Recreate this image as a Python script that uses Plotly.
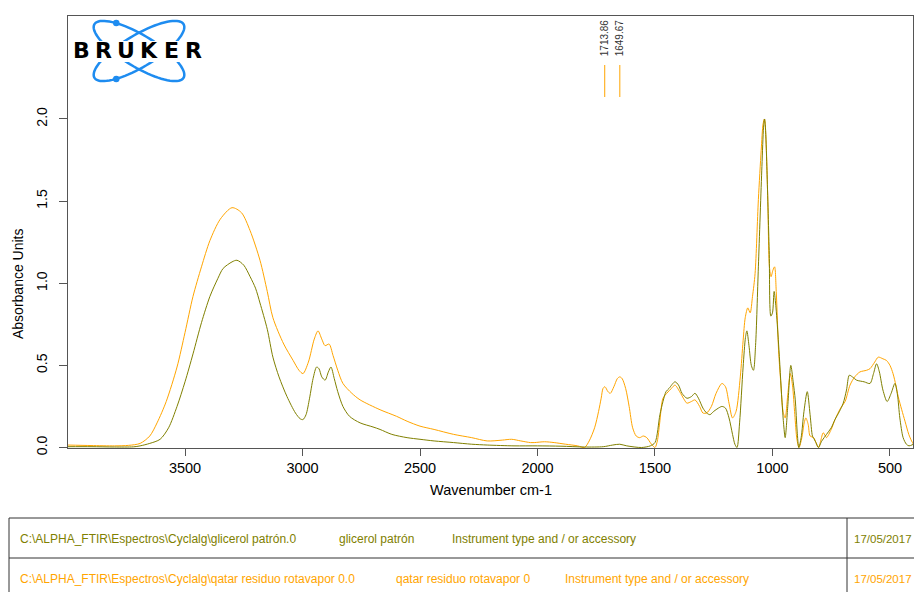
import numpy as np
import plotly.graph_objects as go

# ---------------- data ----------------
wn_qatar = [4000, 3900, 3800, 3740, 3691, 3650, 3619, 3580, 3534, 3500, 3466, 3430, 3394, 3350, 3300,
            3260, 3223, 3181, 3150, 3126, 3080, 3040, 3015, 2998, 2975, 2950, 2934, 2918, 2904, 2887,
            2870, 2850, 2828, 2790, 2755, 2670, 2600, 2555, 2500, 2440, 2357, 2280, 2214, 2150, 2110,
            2071, 2030, 2014, 1970, 1929, 1880, 1829, 1800, 1780, 1757, 1740, 1729, 1721, 1713, 1700,
            1690, 1675, 1660, 1650, 1640, 1625, 1610, 1595, 1580, 1565, 1550, 1535, 1515, 1500, 1490,
            1480, 1466, 1450, 1430, 1415, 1395, 1375, 1364, 1345, 1330, 1310, 1296, 1280, 1260, 1240,
            1215, 1200, 1185, 1170, 1155, 1137, 1125, 1116, 1105, 1095, 1085, 1074, 1060, 1048, 1040,
            1034, 1027, 1020, 1013, 1006, 998, 991, 984, 974, 965, 955, 946, 935, 924, 915,
            905, 896, 887, 875, 865, 858, 848, 840, 825, 812, 803, 795, 784, 775, 770,
            750, 734, 710, 691, 670, 650, 628, 600, 585, 565, 550, 530, 515, 500, 487,
            475, 465, 450, 436, 420, 408, 400]
abs_qatar = [0.015, 0.012, 0.010, 0.013, 0.025, 0.07, 0.15, 0.28, 0.49, 0.70, 0.92, 1.10, 1.26, 1.39, 1.46,
             1.43, 1.32, 1.14, 0.95, 0.79, 0.63, 0.53, 0.47, 0.45, 0.52, 0.66, 0.71, 0.66, 0.62, 0.63,
             0.56, 0.47, 0.39, 0.33, 0.29, 0.23, 0.19, 0.16, 0.13, 0.11, 0.08, 0.06, 0.04, 0.045, 0.05,
             0.04, 0.03, 0.03, 0.035, 0.03, 0.02, 0.01, 0.0, 0.04, 0.12, 0.22, 0.30, 0.36, 0.37, 0.34,
             0.33, 0.37, 0.42, 0.43, 0.42, 0.36, 0.25, 0.12, 0.07, 0.06, 0.07, 0.06, 0.02, 0.0, 0.04,
             0.15, 0.30, 0.33, 0.36, 0.38, 0.34, 0.29, 0.27, 0.28, 0.29, 0.25, 0.21, 0.21, 0.25, 0.33,
             0.39, 0.37, 0.27, 0.18, 0.22, 0.43, 0.65, 0.79, 0.85, 0.82, 0.92, 1.06, 1.51, 1.81, 1.97,
             2.00, 1.85, 1.51, 1.10, 1.04, 1.08, 1.10, 0.95, 0.59, 0.40, 0.22, 0.18, 0.32, 0.45, 0.38,
             0.20, 0.05, 0.0, 0.06, 0.15, 0.18, 0.14, 0.07, 0.06, 0.02, 0.0, 0.04, 0.09, 0.07, 0.06,
             0.11, 0.17, 0.24, 0.28, 0.38, 0.43, 0.46, 0.47, 0.48, 0.52, 0.55, 0.54, 0.53, 0.50, 0.45,
             0.38, 0.31, 0.23, 0.16, 0.08, 0.04, 0.02]

wn_glicerol = [4000, 3900, 3800, 3720, 3691, 3650, 3606, 3570, 3534, 3500, 3466, 3430, 3394, 3360, 3338,
               3300, 3279, 3250, 3223, 3200, 3181, 3150, 3126, 3100, 3066, 3030, 3010, 2998, 2985, 2970,
               2955, 2940, 2930, 2918, 2904, 2890, 2879, 2865, 2850, 2828, 2800, 2755, 2700, 2670, 2620,
               2555, 2500, 2440, 2357, 2280, 2214, 2100, 2000, 1900, 1800, 1720, 1680, 1650, 1620, 1557,
               1520, 1500, 1479, 1466, 1453, 1440, 1415, 1400, 1385, 1364, 1345, 1330, 1315, 1296, 1280,
               1266, 1250, 1230, 1215, 1200, 1185, 1170, 1160, 1151, 1140, 1125, 1115, 1109, 1100, 1090,
               1081, 1072, 1060, 1045, 1038, 1034, 1030, 1024, 1014, 1007, 1000, 993, 985, 974, 960,
               953, 946, 935, 922, 912, 903, 895, 888, 878, 866, 852, 840, 830, 826, 815,
               805, 790, 770, 750, 734, 715, 699, 685, 673, 660, 642, 610, 585, 570, 557,
               545, 530, 512, 495, 479, 468, 458, 444, 430, 419, 400]
abs_glicerol = [0.005, 0.005, 0.003, 0.004, 0.01, 0.025, 0.05, 0.12, 0.25, 0.40, 0.57, 0.76, 0.92, 1.03, 1.09,
                1.13, 1.14, 1.11, 1.04, 0.97, 0.88, 0.72, 0.55, 0.43, 0.31, 0.21, 0.175, 0.17, 0.20, 0.30,
                0.42, 0.49, 0.48, 0.43, 0.41, 0.46, 0.49, 0.42, 0.34, 0.25, 0.19, 0.15, 0.125, 0.11, 0.08,
                0.06, 0.05, 0.04, 0.03, 0.02, 0.015, 0.01, 0.01, 0.008, 0.003, 0.005, 0.015, 0.02, 0.01, 0.0,
                0.01, 0.03, 0.20, 0.28, 0.34, 0.36, 0.40, 0.38, 0.33, 0.30, 0.31, 0.33, 0.30, 0.24, 0.21,
                0.20, 0.22, 0.24, 0.25, 0.24, 0.18, 0.08, 0.02, 0.0, 0.15, 0.49, 0.67, 0.71, 0.62, 0.50,
                0.47, 0.62, 1.10, 1.71, 1.95, 2.00, 1.95, 1.71, 1.20, 0.80, 0.82, 0.95, 0.85, 0.63, 0.29,
                0.15, 0.06, 0.25, 0.50, 0.40, 0.29, 0.10, 0.0, 0.06, 0.22, 0.34, 0.20, 0.07, 0.06, 0.03,
                0.0, 0.04, 0.08, 0.12, 0.17, 0.22, 0.27, 0.35, 0.44, 0.43, 0.41, 0.40, 0.39, 0.45, 0.51,
                0.46, 0.35, 0.28, 0.33, 0.39, 0.32, 0.18, 0.06, 0.02, 0.01, 0.02]

peak_positions = [1713.86, 1649.67]
peak_labels = ["1713.86", "1649.67"]

x_ticks = [3500, 3000, 2500, 2000, 1500, 1000, 500]
y_ticks = [0.0, 0.5, 1.0, 1.5, 2.0]
y_tick_text = ["0.0", "0.5", "1.0", "1.5", "2.0"]

table_rows = [
    [r"C:\ALPHA_FTIR\Espectros\Cyclalg\glicerol patrón.0", "glicerol patrón",
     "Instrument type and / or accessory", "17/05/2017"],
    [r"C:\ALPHA_FTIR\Espectros\Cyclalg\qatar residuo rotavapor 0.0", "qatar residuo rotavapor 0",
     "Instrument type and / or accessory", "17/05/2017"],
]

ORANGE = "#FFA500"
OLIVE = "#808000"
AXIS = "#555555"
FONT = "Liberation Sans, Arial, sans-serif"

W, H = 914, 592
L, R, T, B = 68, 1, 16, 144
PW, PH = W - L - R, H - T - B


def px(x):
    return (x - L) / PW


def py(y):
    return (H - B - y) / PH


fig = go.Figure()
fig.add_trace(go.Scatter(x=wn_qatar, y=abs_qatar, mode="lines",
                         line=dict(color=ORANGE, width=1, shape="spline", smoothing=0.8),
                         name="qatar residuo rotavapor 0", showlegend=False))
fig.add_trace(go.Scatter(x=wn_glicerol, y=abs_glicerol, mode="lines",
                         line=dict(color=OLIVE, width=1, shape="spline", smoothing=0.8),
                         name="glicerol patrón", showlegend=False))

shapes = []
annotations = []

# peak markers
for pos, lab in zip(peak_positions, peak_labels):
    shapes.append(dict(type="line", xref="x", yref="paper", x0=pos, x1=pos,
                       y0=py(97), y1=py(65), line=dict(color=ORANGE, width=1)))
    annotations.append(dict(x=pos, xref="x", y=py(58), yref="paper", text=lab, showarrow=False,
                            textangle=-90, xanchor="center", yanchor="bottom",
                            font=dict(family=FONT, size=10, color="#333333")))

# Bruker logo: two crossing ellipses
cx, cy, a, b = 139, 51, 52, 16
t = np.linspace(0, 2 * np.pi, 80)
for ang in (31, -31):
    th = np.deg2rad(ang)
    xs = cx + a * np.cos(t) * np.cos(th) - b * np.sin(t) * np.sin(th)
    ys = cy + a * np.cos(t) * np.sin(th) + b * np.sin(t) * np.cos(th)
    path = "M " + " L ".join(f"{px(x):.5f},{py(y):.5f}" for x, y in zip(xs, ys)) + " Z"
    shapes.append(dict(type="path", xref="paper", yref="paper", path=path,
                       line=dict(color="#1E8CF0", width=2.5)))
for dy in (23, 79):
    shapes.append(dict(type="circle", xref="paper", yref="paper",
                       x0=px(113), x1=px(119.5), y0=py(dy - 3.3), y1=py(dy + 3.3),
                       fillcolor="#1E8CF0", line=dict(width=0)))
shapes.append(dict(type="rect", xref="paper", yref="paper", x0=px(69), x1=px(207),
                   y0=py(62), y1=py(41), fillcolor="white", line=dict(width=0)))
for i, ch in enumerate("BRUKER"):
    annotations.append(dict(x=px(70 + 22.5 * (i + 0.5)), y=py(51), xref="paper", yref="paper",
                            text=f"<b>{ch}</b>", showarrow=False, xanchor="center", yanchor="middle",
                            font=dict(family="DejaVu Sans", size=22, color="black")))

# axis titles
annotations.append(dict(x=px(18), y=py(284), xref="paper", yref="paper", text="Absorbance Units",
                        textangle=-90, showarrow=False, xanchor="center", yanchor="middle",
                        font=dict(family=FONT, size=14, color="black")))
annotations.append(dict(x=px(491), y=py(490), xref="paper", yref="paper", text="Wavenumber cm-1",
                        showarrow=False, xanchor="center", yanchor="middle",
                        font=dict(family=FONT, size=14.5, color="black")))

# info table
tbl_line = dict(color="#333333", width=1)
shapes += [
    dict(type="line", xref="paper", yref="paper", x0=px(9), x1=px(916), y0=py(518), y1=py(518), line=tbl_line),
    dict(type="line", xref="paper", yref="paper", x0=px(9), x1=px(916), y0=py(558), y1=py(558), line=tbl_line),
    dict(type="line", xref="paper", yref="paper", x0=px(9), x1=px(9), y0=py(518), y1=py(600), line=tbl_line),
    dict(type="line", xref="paper", yref="paper", x0=px(847), x1=px(847), y0=py(518), y1=py(600), line=tbl_line),
]
row_y = [539, 579]
row_colors = [OLIVE, ORANGE]
col_x = [[18, 337, 450, 852], [18, 394, 563, 852]]
for r, row in enumerate(table_rows):
    for c, txt in enumerate(row):
        annotations.append(dict(x=px(col_x[r][c]), y=py(row_y[r]), xref="paper", yref="paper",
                                text=txt, showarrow=False, xanchor="left", yanchor="middle",
                                font=dict(family=FONT, size=11.5 if c == 3 else 12, color=row_colors[r])))

fig.update_layout(
    width=W, height=H,
    margin=dict(l=L, r=R, t=T, b=B, autoexpand=False),
    paper_bgcolor="white", plot_bgcolor="white",
    shapes=shapes, annotations=annotations,
    xaxis=dict(range=[3998, 402], tickvals=x_ticks, ticks="outside", ticklen=7, tickcolor=AXIS,
               showline=True, linecolor=AXIS, linewidth=1, mirror=True, showgrid=False, zeroline=False,
               tickfont=dict(family=FONT, size=14.5, color="black")),
    yaxis=dict(range=[-0.003, 2.627], tickvals=y_ticks, ticktext=y_tick_text, ticks="outside", ticklen=8,
               tickcolor=AXIS, tickangle=-90, ticklabelstandoff=6, showline=True, linecolor=AXIS,
               linewidth=1, mirror=True, showgrid=False, zeroline=False,
               tickfont=dict(family=FONT, size=14, color="black")),
)

fig.write_html("out.html", config={"displayModeBar": False},
               post_script="document.body.style.margin='0';document.body.style.overflow='hidden';")
